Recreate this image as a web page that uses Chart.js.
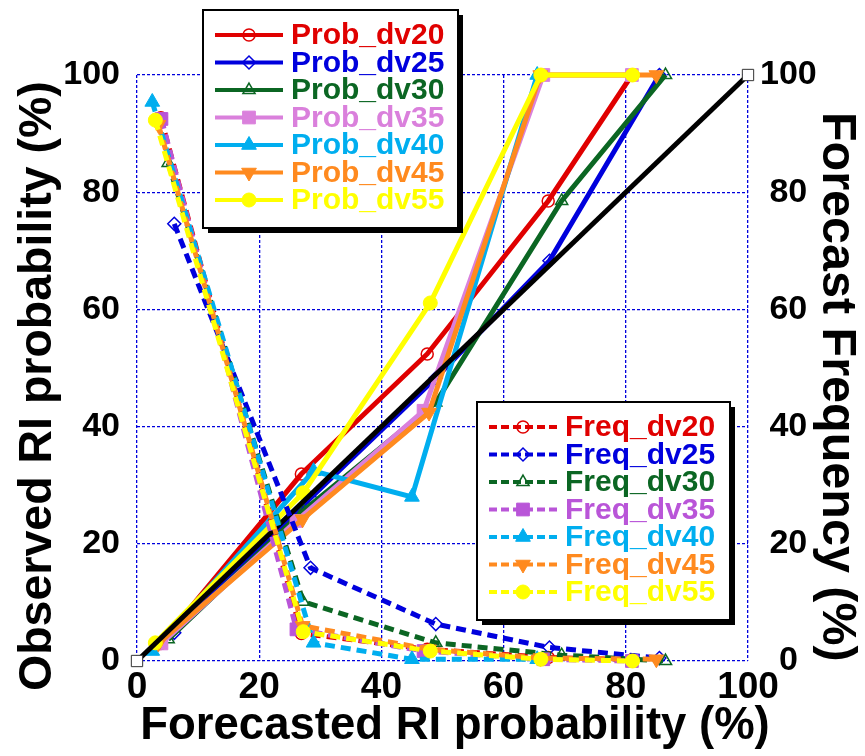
<!DOCTYPE html>
<html>
<head>
<meta charset="utf-8">
<script src="https://cdn.jsdelivr.net/npm/chart.js@4.4.1/dist/chart.umd.min.js"></script>
<style>
  html, body { margin: 0; padding: 0; background: #fff; }
  .wrap { position: relative; width: 865px; height: 756px; }
</style>
</head>
<body>
<div class="wrap"><canvas id="reliability"></canvas></div>
<script>
// forecast bins (x) and observed / frequency values (y)
const xDv20 = [3.9, 26.9, 47.5, 67.3, 81.0];
const probDv20 = [3.0, 31.9, 52.4, 78.5, 100];
const freqDv20 = [92.7, 4.7, 2.0, 0.6, 0.2];

const xDv25 = [6.1, 28.4, 48.9, 67.5, 85.5];
const probDv25 = [4.8, 27.8, 48.3, 68.3, 100];
const freqDv25 = [74.6, 15.9, 6.3, 2.3, 0.5];

const xDv30 = [5.1, 27.2, 48.9, 69.5, 86.5];
const probDv30 = [3.7, 25.6, 44.1, 78.5, 100];
const freqDv30 = [85.0, 10.1, 3.1, 1.0, 0.0];

const xDv35 = [4.0, 26.1, 46.9, 66.5, 81.0];
const probDv35 = [3.0, 23.9, 42.7, 100, 100];
const freqDv35 = [92.5, 5.4, 1.7, 0.3, 0.0];

const xDv40 = [2.5, 28.9, 45.0, 65.5];
const probDv40 = [1.7, 32.4, 28.0, 100];
const freqDv40 = [95.4, 3.1, 0.3, 0.3];

const xDv45 = [3.5, 27.1, 47.8, 66.0, 85.0];
const probDv45 = [3.0, 24.2, 42.4, 100, 100];
const freqDv45 = [91.5, 6.0, 2.0, 0.5, 0.3];

const xDv55 = [3.0, 27.2, 48.0, 66.1, 81.1];
const probDv55 = [3.1, 28.7, 61.1, 100, 100];
const freqDv55 = [92.3, 5.0, 1.7, 0.3, 0.0];

// perfect reliability diagonal
const refX = [0, 100];
const refY = [0, 100];

const axisTicks = [0, 20, 40, 60, 80, 100];

const FONT = "'Liberation Sans', Arial, sans-serif";
const GRID_BLUE = '#0000dd';
const X_TITLE = 'Forecasted RI probability (%)';

// series look: colour, marker
const series = [
  { name: 'dv20', x: xDv20, prob: probDv20, freq: freqDv20, color: '#e00000', freqColor: '#e00000', style: 'circle', radius: 6, open: true },
  { name: 'dv25', x: xDv25, prob: probDv25, freq: freqDv25, color: '#0000dd', freqColor: '#0000dd', style: 'rectRot', radius: 6.5, open: true },
  { name: 'dv30', x: xDv30, prob: probDv30, freq: freqDv30, color: '#0b6623', freqColor: '#0b6623', style: 'triangle', radius: 7, open: true },
  { name: 'dv35', x: xDv35, prob: probDv35, freq: freqDv35, color: '#da80dc', freqColor: '#b955d8', style: 'rect', radius: 9, open: false },
  { name: 'dv40', x: xDv40, prob: probDv40, freq: freqDv40, color: '#00aeef', freqColor: '#00aeef', style: 'triangle', radius: 8.5, open: false },
  { name: 'dv45', x: xDv45, prob: probDv45, freq: freqDv45, color: '#ff8a1f', freqColor: '#ff8a1f', style: 'triangle', rotation: 180, radius: 8.5, open: false },
  { name: 'dv55', x: xDv55, prob: probDv55, freq: freqDv55, color: '#ffff00', freqColor: '#ffff00', style: 'circle', radius: 7, open: false },
];

function toPoints(xs, ys) {
  return xs.map((x, i) => ({ x: x, y: ys[i] }));
}

function markerOpts(s, color) {
  return {
    pointStyle: s.style,
    pointRotation: s.rotation || 0,
    pointRadius: s.radius,
    pointBorderWidth: s.open ? 1.5 : 1,
    pointBorderColor: color,
    pointBackgroundColor: s.open ? 'rgba(0,0,0,0)' : color,
  };
}

const datasets = [];
series.forEach((s, i) => {
  datasets.push(Object.assign({
    label: 'Prob_' + s.name,
    data: toPoints(s.x, s.prob),
    yAxisID: 'y',
    borderColor: s.color,
    borderWidth: 5,
    order: 30 - i,
  }, markerOpts(s, s.color)));
});
datasets.push({
  label: 'Reference',
  data: toPoints(refX, refY),
  yAxisID: 'y',
  borderColor: '#000',
  borderWidth: 5,
  pointStyle: 'rect',
  pointRadius: 8,
  pointBorderWidth: 1,
  pointBorderColor: '#333',
  pointBackgroundColor: '#fff',
  order: 20,
});
series.forEach((s, i) => {
  datasets.push(Object.assign({
    label: 'Freq_' + s.name,
    data: toPoints(s.x, s.freq),
    yAxisID: 'y2',
    borderColor: s.freqColor,
    borderWidth: 5,
    borderDash: [10, 6],
    order: 10 - i,
  }, markerOpts(s, s.freqColor)));
});

function drawMarker(ctx, s, color, x, y) {
  ctx.save();
  ctx.setLineDash([]);
  ctx.strokeStyle = color;
  ctx.fillStyle = s.open ? 'rgba(0,0,0,0)' : color;
  ctx.lineWidth = s.open ? 1.5 : 1;
  Chart.helpers.drawPoint(ctx, {
    pointStyle: s.style,
    rotation: s.rotation || 0,
    radius: s.radius,
    borderWidth: s.open ? 1.5 : 1,
  }, x, y);
  ctx.restore();
}

function drawLegendBox(ctx, left, top, width, height, prefix, dashed) {
  ctx.save();
  ctx.fillStyle = '#000';
  ctx.fillRect(left + 5, top + 5, width, height);
  ctx.fillStyle = '#fff';
  ctx.fillRect(left, top, width, height);
  ctx.lineWidth = 2;
  ctx.strokeStyle = '#000';
  ctx.strokeRect(left, top, width, height);
  series.forEach((s, i) => {
    const color = dashed ? s.freqColor : s.color;
    const y = top + 25 + i * 27.5;
    ctx.strokeStyle = color;
    ctx.lineWidth = 4;
    ctx.setLineDash(dashed ? [8, 4] : []);
    ctx.beginPath();
    ctx.moveTo(left + 12, y);
    ctx.lineTo(left + 80, y);
    ctx.stroke();
    drawMarker(ctx, s, color, left + 46, y);
    ctx.setLineDash([]);
    ctx.fillStyle = color;
    ctx.font = 'bold 30px ' + FONT;
    ctx.textBaseline = 'middle';
    ctx.textAlign = 'left';
    ctx.fillText(prefix + s.name, left + 88, y + 1);
  });
  ctx.restore();
}

// legends boxes plus the x title (wider than the plot, so not a scale title)
const boxLegends = {
  id: 'boxLegends',
  afterDraw(chart) {
    const ctx = chart.ctx;
    drawLegendBox(ctx, 203, 10, 255, 218, 'Prob_', false);
    drawLegendBox(ctx, 477, 402, 253, 218, 'Freq_', true);
    ctx.save();
    ctx.fillStyle = '#000';
    ctx.font = 'bold 45.5px ' + FONT;
    ctx.textAlign = 'center';
    ctx.textBaseline = 'middle';
    ctx.fillText(X_TITLE, 455, 726);
    ctx.restore();
  }
};

new Chart(document.getElementById('reliability'), {
  type: 'line',
  data: { datasets: datasets },
  plugins: [boxLegends],
  options: {
    responsive: true,
    maintainAspectRatio: false,
    animation: false,
    events: [],
    clip: false,
    layout: { padding: { top: 75, left: 0, right: 0, bottom: 0 } },
    plugins: {
      legend: { display: false },
      tooltip: { enabled: false },
    },
    elements: { line: { tension: 0 } },
    scales: {
      x: {
        type: 'linear',
        min: 0,
        max: 100,
        afterBuildTicks: scale => { scale.ticks = axisTicks.map(v => ({ value: v })); },
        afterFit: scale => { scale.height = 95; },
        grid: { color: GRID_BLUE, lineWidth: 1.3, drawTicks: false },
        border: { display: false, dash: [3, 2] },
        ticks: { color: '#000', padding: 5, font: { family: FONT, size: 37, weight: 'bold' } },
      },
      y: {
        type: 'linear',
        position: 'left',
        min: 0,
        max: 100,
        afterBuildTicks: scale => { scale.ticks = axisTicks.map(v => ({ value: v })); },
        afterFit: scale => { scale.width = 137; },
        grid: { color: GRID_BLUE, lineWidth: 1.3, drawTicks: false },
        border: { display: false, dash: [3, 2] },
        ticks: { color: '#000', padding: 17, font: { family: FONT, size: 34, weight: 'bold' } },
        title: {
          display: true,
          text: 'Observed RI probability (%)\u2002 ',
          color: '#000',
          padding: { top: 10, bottom: 0 },
          font: { family: FONT, size: 46.5, weight: 'bold' },
        },
      },
      y2: {
        type: 'linear',
        position: 'right',
        min: 0,
        max: 100,
        afterBuildTicks: scale => { scale.ticks = axisTicks.map(v => ({ value: v })); },
        afterFit: scale => { scale.width = 117; },
        grid: { display: false, drawTicks: false },
        border: { display: false },
        ticks: { color: '#000', padding: 12, crossAlign: 'center', font: { family: FONT, size: 34, weight: 'bold' } },
        title: {
          display: true,
          text: '\u2002 Forecast Frequency (%)',
          color: '#000',
          padding: { top: 0, bottom: 0 },
          font: { family: FONT, size: 48.5, weight: 'bold' },
        },
      },
    },
  },
});
</script>
</body>
</html>
